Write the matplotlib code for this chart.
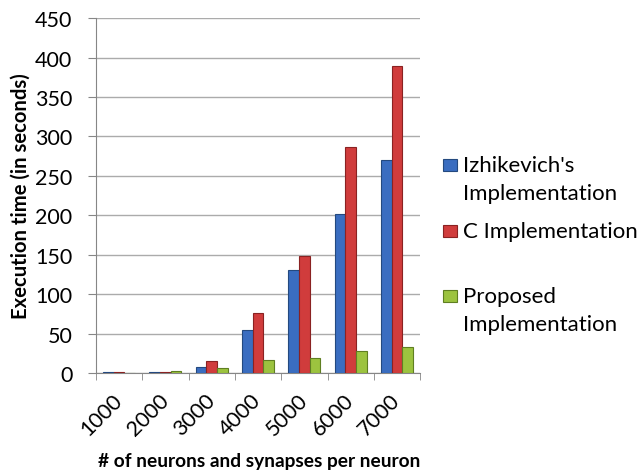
import matplotlib
matplotlib.use('Agg')
import matplotlib.pyplot as plt
import matplotlib.ticker as mticker
from matplotlib.patches import Rectangle
import numpy as np

plt.rcParams.update({
    'font.family': ['Lato', 'DejaVu Sans'],
    'font.size': 15.5,
})

categories = ['1000', '2000', '3000', '4000', '5000', '6000', '7000']
izhikevich = [0.6, 1.5, 7.5, 55, 130, 202, 270]
c_impl = [0.6, 1.0, 15, 76, 148, 287, 389]
proposed = [0.5, 2.0, 6, 16, 19, 28, 33]

labels = ["Izhikevich's\nImplementation", "C Implementation", "Proposed\nImplementation"]
colors = ['#3A6DC0', '#D03C3C', '#9CC33F']
edges = ['#24497F', '#8A2222', '#5F7F22']

fig = plt.figure(figsize=(6.42, 4.77), dpi=100)
ax = fig.add_axes([0.1495, 0.216, 0.505, 0.744])

x = np.arange(len(categories))
w = 0.23
for i, (vals, c, e) in enumerate(zip([izhikevich, c_impl, proposed], colors, edges)):
    ax.bar(x + (i - 1) * w, vals, w, color=c, edgecolor=e, linewidth=0.8, zorder=3)

ax.set_xlim(-0.5, len(categories) - 0.5)
ax.set_ylim(0, 450)
ax.yaxis.set_major_locator(mticker.MultipleLocator(50))
ax.grid(axis='y', color='#ABABAB', linewidth=1.0, zorder=0)

ax.set_xticks(x)
ax.set_xticklabels(categories, rotation=45, ha='right', va='center', rotation_mode='anchor')
ax.set_xticks(np.arange(len(categories) + 1) - 0.5, minor=True)
ax.tick_params(axis='x', which='major', length=0, pad=17)
ax.tick_params(axis='x', which='minor', length=5, color='#868686')
ax.tick_params(axis='y', length=6, color='#868686', pad=11)

for s in ['top', 'right']:
    ax.spines[s].set_visible(False)
for s in ['left', 'bottom']:
    ax.spines[s].set_color('#868686')

ax.set_ylabel('Execution time (in seconds)', fontweight='bold', fontsize=14.6, labelpad=3)

H, W = 477.0, 642.0
fig.text(259 / W, 1 - 462 / H, '# of neurons and synapses per neuron',
         fontweight='bold', fontsize=13.8, ha='center', va='center')

# manual legend, marker aligned with first line of each label
rows = [166, 232, 297]
for lab, c, e, ry in zip(labels, colors, edges, rows):
    fig.patches.append(Rectangle((443 / W, 1 - (ry + 6) / H), 14 / W, 12 / H,
                                 transform=fig.transFigure, facecolor=c,
                                 edgecolor=e, linewidth=0.8))
    for k, line in enumerate(lab.split('\n')):
        fig.text(463 / W, 1 - (ry + 28 * k) / H, line, va='center', ha='left',
                 fontsize=16)

fig.savefig('out.png', dpi=100)
